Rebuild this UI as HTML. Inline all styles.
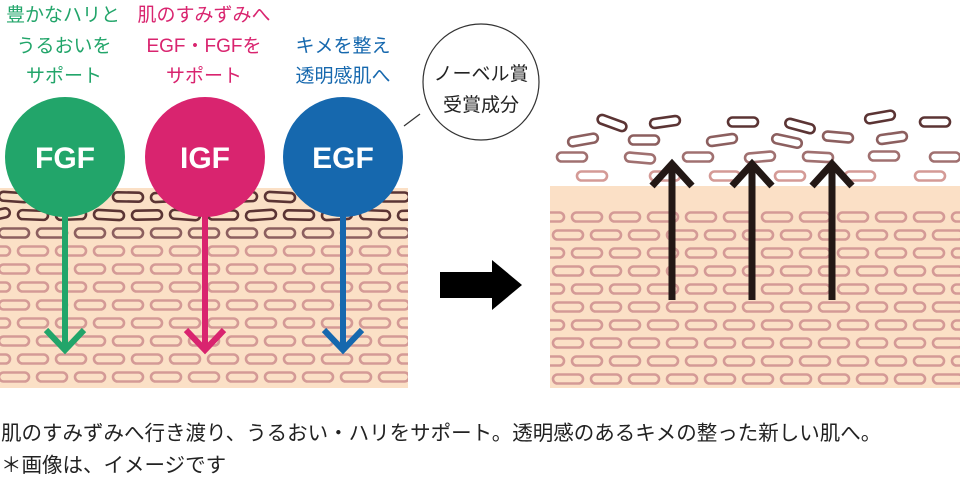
<!DOCTYPE html>
<html><head><meta charset="utf-8"><style>
body{margin:0;background:#fff;width:960px;height:480px;overflow:hidden;font-family:"Liberation Sans","Noto Sans CJK JP",sans-serif}
svg{position:absolute;left:0;top:0}
text{font-family:"Liberation Sans","Noto Sans CJK JP",sans-serif}
</style></head><body>
<svg id="s" width="960" height="480" viewBox="0 0 960 480">
<defs>
<clipPath id="cl"><rect x="0" y="180" width="408" height="208"/></clipPath>
<clipPath id="cr"><rect x="550" y="186" width="410" height="202"/></clipPath>
</defs>
<rect x="0" y="188" width="408" height="200" fill="#fbe0c6"/>
<rect x="550" y="186" width="410" height="202" fill="#fbe0c6"/>
<g id="cellsL" fill="none" stroke-width="2.6" clip-path="url(#cl)"></g>
<g id="cellsR" fill="none" stroke-width="2.6" clip-path="url(#cr)"></g>
<g id="cellsF" fill="none" stroke-width="2.6"></g>
<g id="top" font-size="19" text-anchor="middle">
<text x="63" y="21" fill="#22a56a">豊かなハリと</text>
<text x="64" y="52" fill="#22a56a">うるおいを</text>
<text x="64" y="82" fill="#22a56a">サポート</text>
<text x="204" y="21" fill="#d9246f">肌のすみずみへ</text>
<text x="204" y="52" fill="#d9246f">EGF・FGFを</text>
<text x="204" y="82" fill="#d9246f">サポート</text>
<text x="343" y="52" fill="#1668ae">キメを整え</text>
<text x="343" y="82" fill="#1668ae">透明感肌へ</text>
</g>
<line x1="65" y1="200" x2="65" y2="350" stroke="#22a56a" stroke-width="6"/>
<polyline points="46,330 65,350 84,330" fill="none" stroke="#22a56a" stroke-width="6"/>
<line x1="205" y1="200" x2="205" y2="350" stroke="#d9246f" stroke-width="6"/>
<polyline points="186,330 205,350 224,330" fill="none" stroke="#d9246f" stroke-width="6"/>
<line x1="343" y1="200" x2="343" y2="350" stroke="#1668ae" stroke-width="6"/>
<polyline points="324,330 343,350 362,330" fill="none" stroke="#1668ae" stroke-width="6"/>
<circle cx="65" cy="157" r="60" fill="#22a56a"/>
<circle cx="205" cy="157" r="60" fill="#d9246f"/>
<circle cx="343" cy="157" r="60" fill="#1668ae"/>
<g font-size="30" font-weight="bold" fill="#fff" text-anchor="middle">
<text x="65" y="168">FGF</text><text x="205" y="168">IGF</text><text x="343" y="168">EGF</text></g>
<line x1="404" y1="126" x2="420" y2="114" stroke="#333" stroke-width="1.2"/>
<circle cx="481" cy="82" r="58" fill="#fff" stroke="#333" stroke-width="1.2"/>
<text x="481" y="80" font-size="19" text-anchor="middle" fill="#222">ノーベル賞</text>
<text x="481" y="111" font-size="19" text-anchor="middle" fill="#222">受賞成分</text>
<polygon points="440,272 492,272 492,260 522,285 492,310 492,298 440,298" fill="#000"/>
<g stroke="#231815" stroke-width="7" fill="none">
<line x1="672" y1="300" x2="672" y2="166"/><polyline points="652,186 672,164 692,186"/>
<line x1="752" y1="300" x2="752" y2="166"/><polyline points="732,186 752,164 772,186"/>
<line x1="832" y1="300" x2="832" y2="166"/><polyline points="812,186 832,164 852,186"/>
</g>
<text x="1" y="440" font-size="20.5" fill="#222">肌のすみずみへ行き渡り、うるおい・ハリをサポート。透明感のあるキメの整った新しい肌へ。</text>
<text x="1" y="472" font-size="20.5" fill="#222">＊画像は、イメージです</text>
</svg>
<script>
var NS='http://www.w3.org/2000/svg';
function cell(g,x,y,c,rot){var r=document.createElementNS(NS,'rect');r.setAttribute('x',x-15);r.setAttribute('y',y-4.5);r.setAttribute('width',30);r.setAttribute('height',9);r.setAttribute('rx',4.5);r.setAttribute('stroke',c);if(rot)r.setAttribute('transform','rotate('+rot+' '+x+' '+y+')');document.getElementById(g).appendChild(r);}
var dark='#5b3434',mid='#8c5f5f',pink='#d49a96';
for(var i=0;i<11;i++){var y=197+i*18;var off=(i%2)?19:0;var c=i<2?dark:(i<3?mid:pink);
 for(var x=14+off-38;x<430;x+=38){cell('cellsL',x,y,c,i<2?((x*7)%9-4):0);}
 if(i>=1){for(var x=568+off-38;x<990;x+=38){cell('cellsR',x,y+2,pink,0);}}
}
var fl=[[612,123,dark,20],[665,122,dark,-8],[743,122,dark,0],[800,126,dark,15],[880,117,dark,-10],[935,122,dark,0],
[583,140,mid,-10],[644,140,mid,0],[722,140,mid,-8],[787,141,mid,12],[838,137,mid,5],[892,138,mid,-8],
[572,157,'#a07070',0],[640,158,'#a07070',5],[698,157,'#a07070',0],[760,157,'#a07070',-5],[818,157,'#a07070',3],[884,156,'#a07070',0],[945,157,'#a07070',0],
[592,176,pink,0],[665,176,pink,0],[725,176,pink,0],[790,176,pink,0],[860,176,pink,0],[930,176,pink,0]];
fl.forEach(function(a){cell('cellsF',a[0],a[1],a[2],a[3]);});
</script>
</body></html>
